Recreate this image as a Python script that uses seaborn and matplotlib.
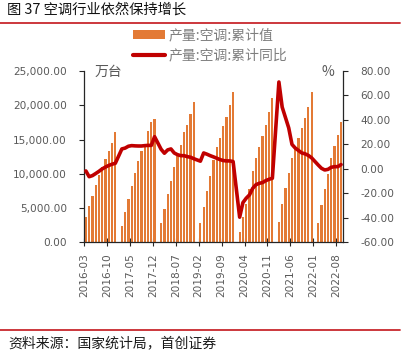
import numpy as np
import pandas as pd
import seaborn as sns
import matplotlib.pyplot as plt
from matplotlib.patches import Patch
from matplotlib.lines import Line2D

# monthly categories, 2016-03 .. 2022-09 (January has no data)
months = [p.strftime('%Y-%m') for p in pd.period_range('2016-03', '2022-09', freq='M')]

nan = np.nan
# 产量:空调:累计值 (万台)
vol_2016 = [3740, 5300, 6760, 8370, 9820, 10950, 12160, 13330, 14540, 16100]
vol_2017 = [nan, 2430, 4380, 6320, 8220, 10070, 11800, 13330, 14300, 16200, 17560, 18040]
vol_2018 = [nan, 2770, 4810, 7000, 8990, 10990, 12840, 14200, 16050, 17160, 18720, 20520]
vol_2019 = [nan, 2770, 5200, 7530, 9720, 12010, 13860, 15270, 17020, 18330, 20040, 21890]
vol_2020 = [nan, 1550, 3650, 5590, 7740, 10410, 12260, 13860, 15560, 17080, 18970, 21050]
vol_2021 = [nan, 2920, 5590, 7970, 10160, 12350, 13810, 15270, 16640, 18140, 19790, 21890]
vol_2022 = [nan, 2870, 5440, 7740, 9970, 12260, 14100, 15700, 17510]

# 产量:空调:累计同比 (%)
yoy_2016 = [-1.7, -6.4, -5.5, -3.8, -2.0, 0.0, 1.5, 2.8, 3.8, 4.6]
yoy_2017 = [nan, 16.3, 17.0, 18.5, 19.0, 18.8, 18.7, 18.7, 19.0, 19.2, 19.2, 26.3]
yoy_2018 = [nan, 16.0, 12.8, 15.5, 16.3, 13.0, 11.6, 10.8, 10.8, 10.0, 9.5, 8.3]
yoy_2019 = [nan, 6.3, 13.0, 12.0, 10.8, 9.8, 8.7, 7.6, 6.8, 6.5, 6.5, 6.0]
yoy_2020 = [nan, -39.5, -27.6, -24.0, -21.3, -15.9, -12.9, -11.8, -11.2, -9.6, -8.5, -7.7]
yoy_2021 = [nan, 71.0, 50.5, 42.0, 33.5, 20.0, 17.0, 15.0, 13.0, 12.3, 11.0, 9.0]
yoy_2022 = [nan, 3.2, 0.5, -0.9, -0.4, 1.3, 1.8, 1.8, 3.5]

volume = vol_2016 + vol_2017 + vol_2018 + vol_2019 + vol_2020 + vol_2021 + vol_2022
yoy = yoy_2016 + yoy_2017 + yoy_2018 + yoy_2019 + yoy_2020 + yoy_2021 + yoy_2022

df = pd.DataFrame({'month': months, 'pos': np.arange(len(months)), 'volume': volume, 'yoy': yoy})

sns.set_style('white')
plt.rcParams['font.family'] = ['Noto Sans CJK SC', 'DejaVu Sans']

BAR = '#E37A35'
LINE = '#C00000'
GREY = '#595959'

fig = plt.figure(figsize=(4.07, 3.52), dpi=100)
ax = fig.add_axes([0.207, 0.3117, 0.635, 0.4866])

sns.barplot(data=df, x='month', y='volume', order=months, color=BAR, saturation=1,
            width=0.68, errorbar=None, linewidth=0, edgecolor='none', ax=ax, zorder=2)

ax.set_xlim(-0.5, len(months) - 0.5)
ax.set_ylim(0, 25000)
ax.set_yticks(np.arange(0, 25001, 5000))
ax.set_yticklabels([f'{v:,.2f}' for v in np.arange(0, 25001, 5000)])
tick_idx = np.arange(0, len(months), 7)
ax.set_xticks(tick_idx - 0.5)
ax.set_xticklabels([months[i] for i in tick_idx], rotation=90)
ax.set_xlabel('')
ax.set_ylabel('')

ax2 = ax.twinx()
line_df = df.dropna(subset=['yoy'])
sns.lineplot(data=line_df, x='pos', y='yoy', color=LINE, lw=2.6, errorbar=None, ax=ax2)
ax2.set_ylim(-60, 80)
ax2.set_yticks(np.arange(-60, 81, 20))
ax2.set_yticklabels([f'{v:.2f}' for v in np.arange(-60, 81, 20)])
ax2.set_xlim(-0.5, len(months) - 0.5)
ax2.set_ylabel('')
ax2.set_xlabel('')

for a in (ax, ax2):
    for s in a.spines.values():
        s.set_color('#262626')
        s.set_linewidth(0.9)
    a.spines['top'].set_visible(False)
    a.grid(False)
ax.spines['right'].set_visible(False)
ax2.spines['left'].set_visible(False)
ax2.spines['bottom'].set_visible(False)

ax.tick_params(axis='y', direction='out', length=3.5, width=0.8, color='#262626',
               pad=9, labelsize=7.6, labelcolor=GREY, left=True)
ax.tick_params(axis='x', direction='inout', length=6, width=0.8, color='#262626',
               pad=5, labelsize=7.6, labelcolor=GREY, bottom=True)
ax2.tick_params(axis='y', direction='out', length=3.5, width=0.8, color='#262626',
                pad=9, labelsize=7.6, labelcolor=GREY, right=True)
for lab in ax.get_xticklabels() + ax.get_yticklabels() + ax2.get_yticklabels():
    lab.set_family('DejaVu Sans')

# units
fig.text(95 / 407, 1 - 72 / 352, '万台', fontsize=10, color=GREY, va='center', ha='left')
fig.text(328 / 407, 1 - 72 / 352, '%', fontsize=10, color=GREY, va='center', ha='center')

# legend
handles = [Patch(facecolor=BAR, edgecolor='none'),
           Line2D([0], [0], color=LINE, lw=3)]
labels = ['产量:空调:累计值', '产量:空调:累计同比']
fig.legend(handles, labels, loc='upper left', bbox_to_anchor=(133 / 407, 1 - 28 / 352),
           frameon=False, fontsize=10, labelcolor='#7F7F7F', handlelength=2.3,
           handleheight=0.6, handletextpad=0.25, borderpad=0, borderaxespad=0,
           labelspacing=0.45)

# title, rules and source
fig.text(7 / 407, 1 - 10 / 352, '图 37 空调行业依然保持增长', fontsize=10.3,
         fontweight='medium', color='#111111', va='center', ha='left')
fig.add_artist(Line2D([0, 400 / 407], [1 - 23 / 352] * 2, color='#C8282D', lw=1.3))
fig.add_artist(Line2D([0, 400 / 407], [1 - 330 / 352] * 2, color='#C8282D', lw=1.3))
fig.text(8 / 407, 1 - 343 / 352, '资料来源：国家统计局，首创证券', fontsize=10,
         color='#1A1A1A', va='center', ha='left')

fig.savefig('out.png', dpi=100)
